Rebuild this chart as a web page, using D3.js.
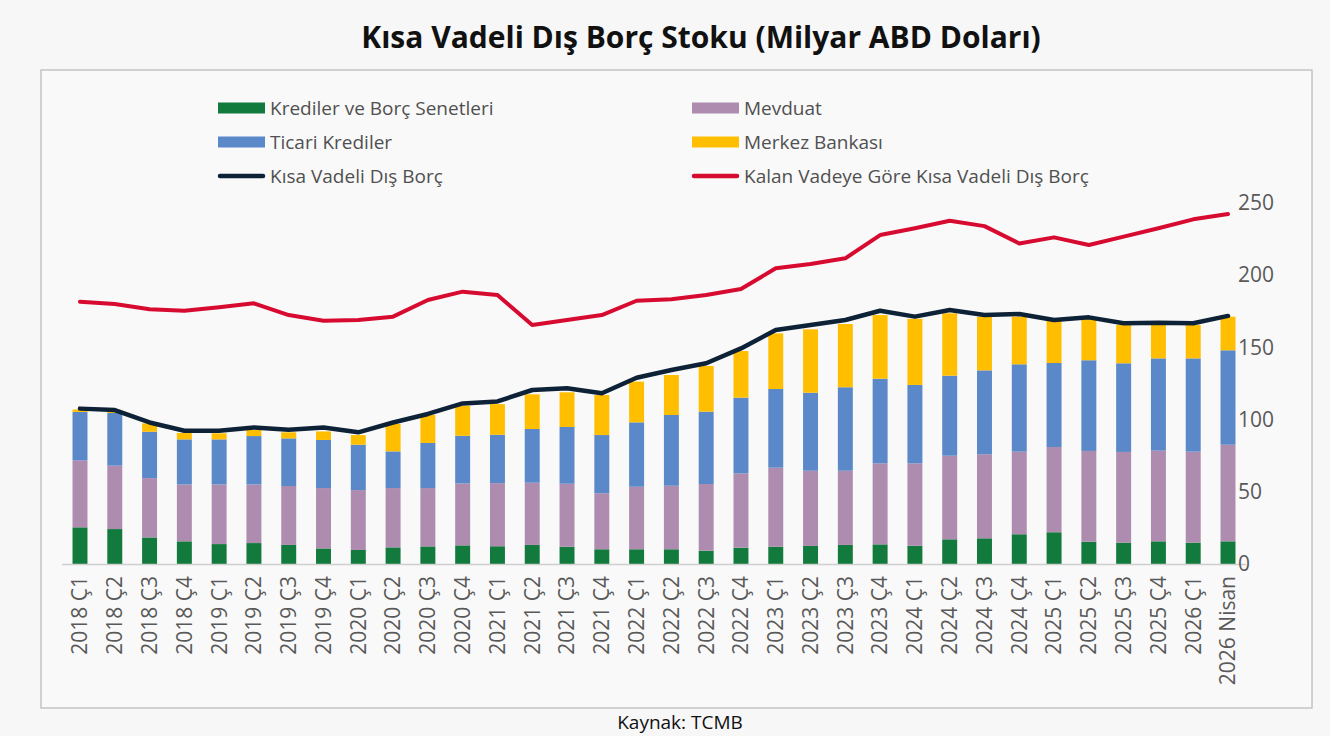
<!DOCTYPE html>
<html>
<head>
<meta charset="utf-8">
<script src="https://cdn.jsdelivr.net/npm/d3@7"></script>
<style>
  body { margin: 0; background: #f7f7f7; font-family: "Open Sans", "Noto Sans", sans-serif; }
  svg { display: block; }
</style>
</head>
<body>
<svg id="chart" width="1330" height="736"></svg>
<script>
// categories
var periods = ["2018 Ç1","2018 Ç2","2018 Ç3","2018 Ç4","2019 Ç1","2019 Ç2","2019 Ç3","2019 Ç4",
  "2020 Ç1","2020 Ç2","2020 Ç3","2020 Ç4","2021 Ç1","2021 Ç2","2021 Ç3","2021 Ç4",
  "2022 Ç1","2022 Ç2","2022 Ç3","2022 Ç4","2023 Ç1","2023 Ç2","2023 Ç3","2023 Ç4",
  "2024 Ç1","2024 Ç2","2024 Ç3","2024 Ç4","2025 Ç1","2025 Ç2","2025 Ç3","2025 Ç4",
  "2026 Ç1","2026 Nisan"];

// stacked components (milyar ABD doları)
var krediler = [25.4,24.2,18.4,15.7,13.8,14.5,13.2,10.8,9.7,11.5,12.2,12.9,12.3,13.2,12.0,10.2,
  10.2,10.2,9.2,11.3,12.0,12.5,13.2,13.6,12.6,17.1,17.8,20.6,22.0,15.4,14.8,15.7,14.8,15.7];
var mevduat = [46.3,43.9,41.1,39.4,41.3,40.6,40.8,41.8,41.5,41.1,40.4,42.9,43.7,43.1,43.6,38.8,
  43.3,44.0,46.2,51.5,54.7,52.1,51.4,56.1,57.1,57.9,58.2,57.2,59.0,62.9,62.8,62.8,63.0,66.9];
var ticari = [33.6,36.5,32.1,31.2,31.2,33.5,33.0,33.3,31.4,25.4,31.2,33.0,33.5,37.2,39.3,40.3,
  44.6,49.0,50.1,52.4,54.5,54.0,57.8,58.6,54.3,55.4,58.1,60.5,58.2,62.8,61.4,63.9,64.6,65.4];
var merkez = [1.7,1.5,5.8,4.4,4.2,4.2,4.2,5.9,6.7,19.0,19.4,20.8,21.2,24.0,24.0,27.7,
  28.2,27.7,31.6,32.3,38.5,43.9,43.8,44.1,45.8,43.2,37.2,33.0,29.4,29.0,26.5,23.1,23.1,23.3];

// lines
var kisaVadeli = [107.6,106.6,98.0,92.3,92.3,94.6,93.0,94.6,91.2,98.0,103.9,111.2,112.6,120.5,121.7,118.2,
  129.0,134.3,139.0,149.3,162.0,165.5,169.0,175.4,171.3,175.9,172.4,173.1,169.0,170.8,166.7,167.1,166.7,171.8];
var kalanVade = [181.6,180.0,176.4,175.4,177.8,180.5,172.4,168.5,169.0,171.3,182.8,188.6,186.3,165.5,169.0,172.4,
  182.3,183.3,186.3,190.4,204.8,207.8,211.7,227.8,232.5,237.7,234.0,222.0,226.2,220.9,226.7,232.5,238.7,242.4];

var yTicks = [0,50,100,150,200,250];

var seriesNames = ["Krediler ve Borç Senetleri","Mevduat","Ticari Krediler","Merkez Bankası"];
var seriesColors = ["#137a3d","#ae8caf","#5a88c8","#ffbf00"];
var lineNames = ["Kısa Vadeli Dış Borç","Kalan Vadeye Göre Kısa Vadeli Dış Borç"];
var lineColors = ["#0e2237","#d70a30"];

var svg = d3.select("#chart");

// frame
svg.append("rect")
  .attr("x", 41).attr("y", 70).attr("width", 1271).attr("height", 638)
  .attr("fill", "#f9f9f9").attr("stroke", "#c4c4c4").attr("stroke-width", 1.5);

// title
svg.append("text")
  .attr("x", 701).attr("y", 48)
  .attr("text-anchor", "middle")
  .attr("font-size", 30).attr("font-weight", "bold").attr("fill", "#111")
  .text("Kısa Vadeli Dış Borç Stoku (Milyar ABD Doları)");

// source
svg.append("text")
  .attr("x", 680).attr("y", 729)
  .attr("text-anchor", "middle")
  .attr("font-size", 19).attr("fill", "#111")
  .text("Kaynak: TCMB");

// scales
var x = d3.scaleBand().domain(periods).range([62.6, 1245.4])
  .paddingInner(0.57).paddingOuter(0.285);
var y = d3.scaleLinear().domain([0, 250]).range([564, 203]);

// stacked data
var rows = periods.map(function(p, i){
  return {p: p, k: krediler[i], m: mevduat[i], t: ticari[i], mb: merkez[i]};
});
var stack = d3.stack().keys(["k","m","t","mb"]);
var layers = stack(rows);

var barG = svg.append("g");
barG.selectAll("g.layer")
  .data(layers)
  .enter().append("g")
  .attr("class", "layer")
  .attr("fill", function(d, i){ return seriesColors[i]; })
  .selectAll("rect")
  .data(function(d){ return d; })
  .enter().append("rect")
  .attr("x", function(d){ return x(d.data.p); })
  .attr("width", x.bandwidth())
  .attr("y", function(d){ return y(d[1]); })
  .attr("height", function(d){ return y(d[0]) - y(d[1]); });

// baseline
svg.append("line")
  .attr("x1", 62).attr("x2", 1246)
  .attr("y1", y(0) + 0.5).attr("y2", y(0) + 0.5)
  .attr("stroke", "#cfcfcf").attr("stroke-width", 1.5);

// lines
var line = d3.line()
  .x(function(d, i){ return x(periods[i]) + x.bandwidth() / 2; })
  .y(function(d){ return y(d); });

svg.append("path")
  .datum(kalanVade)
  .attr("d", line)
  .attr("fill", "none").attr("stroke", lineColors[1])
  .attr("stroke-width", 4).attr("stroke-linejoin", "round").attr("stroke-linecap", "round");

svg.append("path")
  .datum(kisaVadeli)
  .attr("d", line)
  .attr("fill", "none").attr("stroke", lineColors[0])
  .attr("stroke-width", 4.5).attr("stroke-linejoin", "round").attr("stroke-linecap", "round");

// y axis (right)
var yAxis = svg.append("g")
  .attr("transform", "translate(1234,0)")
  .call(d3.axisRight(y).tickValues(yTicks).tickSize(0).tickPadding(4));
yAxis.select(".domain").remove();
yAxis.selectAll("text")
  .attr("font-family", "Open Sans, sans-serif")
  .attr("font-size", 21).attr("fill", "#595959");

// x axis
var xAxis = svg.append("g")
  .attr("transform", "translate(0," + (y(0) + 12) + ")")
  .call(d3.axisBottom(x).tickSize(0).tickPadding(0));
xAxis.select(".domain").remove();
xAxis.selectAll("text")
  .attr("font-family", "Open Sans, sans-serif")
  .attr("font-size", 21).attr("fill", "#595959")
  .attr("transform", "rotate(-90)")
  .attr("text-anchor", "end")
  .attr("dy", "0.35em")
  .attr("x", 0).attr("y", 0);

// legend
var legendItems = [
  {name: seriesNames[0], color: seriesColors[0], type: "rect", col: 0, row: 0},
  {name: seriesNames[1], color: seriesColors[1], type: "rect", col: 1, row: 0},
  {name: seriesNames[2], color: seriesColors[2], type: "rect", col: 0, row: 1},
  {name: seriesNames[3], color: seriesColors[3], type: "rect", col: 1, row: 1},
  {name: lineNames[0], color: lineColors[0], type: "line", col: 0, row: 2},
  {name: lineNames[1], color: lineColors[1], type: "line", col: 1, row: 2}
];
var legend = svg.append("g");
var lg = legend.selectAll("g")
  .data(legendItems)
  .enter().append("g")
  .attr("transform", function(d){
    return "translate(" + (d.col ? 692 : 218) + "," + (108 + d.row * 34) + ")";
  });
lg.each(function(d){
  var g = d3.select(this);
  if (d.type === "rect") {
    g.append("rect").attr("x", 0).attr("y", -5.5).attr("width", 47).attr("height", 11).attr("fill", d.color);
  } else {
    g.append("line").attr("x1", 2).attr("x2", 45).attr("y1", 0).attr("y2", 0)
      .attr("stroke", d.color).attr("stroke-width", 4.5).attr("stroke-linecap", "round");
  }
  g.append("text").attr("x", 52).attr("y", 0).attr("dy", "0.35em")
    .attr("font-size", 19).attr("fill", "#505050")
    .text(d.name);
});
</script>
</body>
</html>
